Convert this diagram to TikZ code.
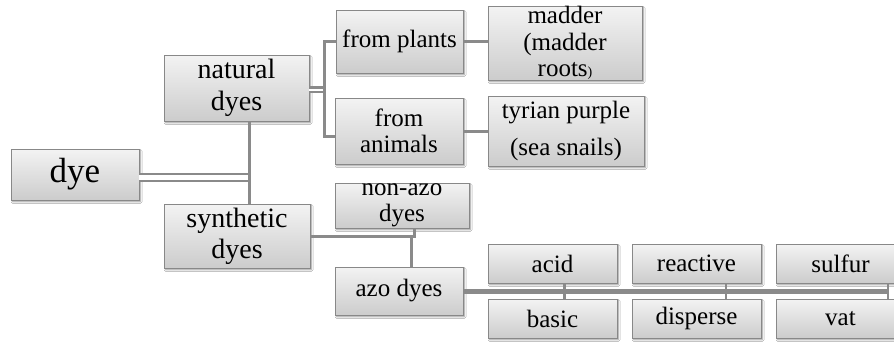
\documentclass[tikz,border=0pt]{standalone}
\usepackage{fontspec}
\setmainfont{Liberation Serif}
\usetikzlibrary{shadows.blur,calc}
\definecolor{linegray}{HTML}{8A8A8A}
\definecolor{boxedge}{HTML}{888888}
\definecolor{topc}{HTML}{F3F3F3}
\definecolor{botc}{HTML}{CCCCCC}
\tikzset{
  box/.style={draw=boxedge, line width=0.9pt, top color=topc, bottom color=botc,
    inner sep=0pt, align=center, font=\fontsize{25}{26.5}\selectfont,
    blur shadow={shadow xshift=1.5pt, shadow yshift=-1.8pt, shadow blur steps=4,
      shadow opacity=40, shadow blur radius=1.5pt}},
  conn/.style={draw=linegray, line width=3pt},
  thinconn/.style={draw=linegray, line width=2.6pt},
  dbl/.style={draw=linegray, double=white, line width=2.7pt, double distance=4.3pt},
  dblsmall/.style={draw=linegray, double=white, line width=2.2pt, double distance=2pt},
}
\begin{document}
\begin{tikzpicture}[x=1pt,y=-1pt]
\clip (0,0) rectangle (894,343);
\fill[white] (0,0) rectangle (894,343);

% boxes
\node[box, minimum width=128pt, minimum height=51pt, font=\fontsize{35}{36}\selectfont] (dye) at (75,174.5) {dye};
\node[box, minimum width=145pt, minimum height=66pt, font=\fontsize{28}{31.5}\selectfont] (nat) at (236.5,88) {natural\\dyes};
\node[box, minimum width=146pt, minimum height=64pt, font=\fontsize{28}{31}\selectfont] (syn) at (237,236) {synthetic\\dyes};
\node[box, minimum width=127pt, minimum height=63pt] (plants) at (399.5,41.5) {from plants};
\node[box, minimum width=128pt, minimum height=66pt] (animals) at (399,131) {from\\animals};
\node[box, minimum width=134pt, minimum height=45pt] (nonazo) at (402,205.5) {non-azo\\dyes};
\node[box, minimum width=128pt, minimum height=48pt] (azo) at (399,291) {azo dyes};
\node[box, minimum width=154pt, minimum height=74pt] (madder) at (565,43) {madder\\(madder\\roots{\fontsize{14}{14}\selectfont)}};
\node[box, minimum width=156pt, minimum height=70pt, font=\fontsize{25}{37}\selectfont] (tyrian) at (566,131) {tyrian purple\\(sea snails)};
\node[box, minimum width=129pt, minimum height=39pt] (acid) at (552.5,263.5) {acid};
\node[box, minimum width=129pt, minimum height=39pt] (basic) at (552.5,318.5) {basic};
\node[box, minimum width=129pt, minimum height=39pt] (reactive) at (696.5,263.5) {reactive};
\node[box, minimum width=129pt, minimum height=39pt] (disperse) at (696.5,318.5) {disperse};
\node[box, minimum width=129pt, minimum height=39pt] (sulfur) at (840.5,263.5) {sulfur};
\node[box, minimum width=129pt, minimum height=39pt] (vat) at (840.5,318.5) {vat};

% junction coordinates
\coordinate (jd) at (249,177.5);
\coordinate (jn) at (324,89.5);
\coordinate (js) at (414,236);
\coordinate (ja) at (888,291.5);

% dye -> natural / synthetic
\draw[dbl] ([yshift=-3pt]dye.east) -- (jd);
\draw[conn] (nat.south -| jd) -- (syn.north -| jd);

% natural -> plants / animals
\draw[dblsmall] ([yshift=-1.5pt]nat.east) -- (jn);
\draw[conn] (plants.west) -| (jn) |- ([yshift=-5pt]animals.west);
\draw[conn] (plants.east) -- (plants.east -| madder.west);
\draw[conn] (animals.east) -- (tyrian.west);

% synthetic -> non-azo / azo
\draw[conn] (syn.east) -| (nonazo.south -| js);
\draw[conn] ([xshift=12pt]azo.north) -- ([xshift=12pt]azo.north |- js);

% azo -> classes
\draw[conn, line width=4.5pt] (azo.east |- ja) -- (ja);
\draw[thinconn] ([xshift=12pt]acid.south) -- ([xshift=12pt]basic.north);
\draw[thinconn] ([xshift=29.5pt]reactive.south) -- ([xshift=29.5pt]disperse.north);
\draw[thinconn] (sulfur.south -| ja) -- (vat.north -| ja);
\end{tikzpicture}
\end{document}
